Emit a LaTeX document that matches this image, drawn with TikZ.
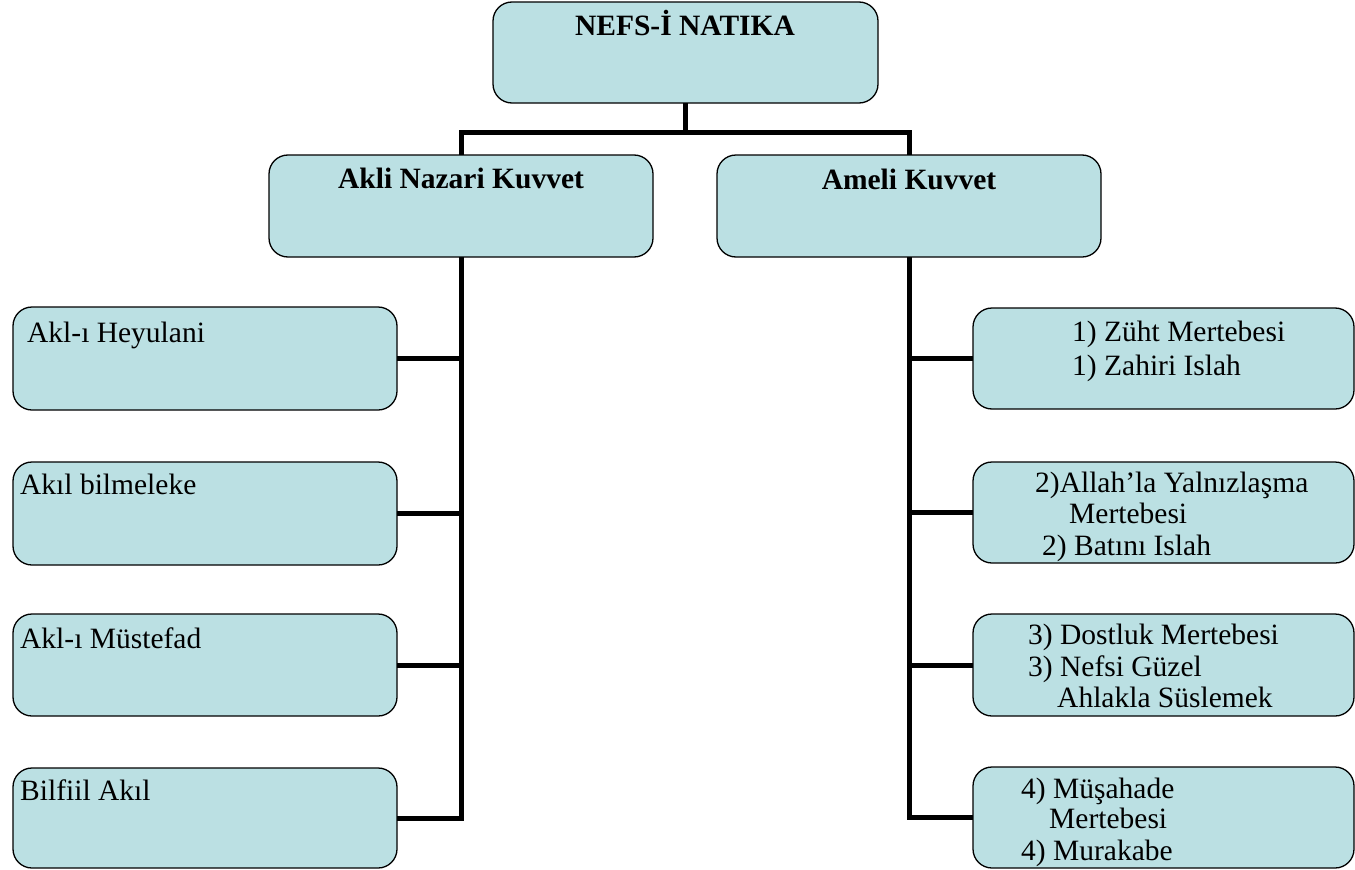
\documentclass[tikz,border=0pt]{standalone}
\usepackage{fontspec}
\usetikzlibrary{calc}
\setmainfont{Liberation Serif}
\definecolor{boxfill}{RGB}{187,224,227}
\tikzset{
  box/.style={draw=black, line width=1.3pt, fill=boxfill, rounded corners=19pt,
              rectangle, inner sep=0pt},
  conn/.style={draw=black, line width=5pt, line join=miter},
  txt/.style={inner sep=0pt, font=\fontsize{29.5}{31.5}\selectfont},
  head/.style={inner sep=0pt, font=\fontsize{29.5}{31.5}\selectfont\bfseries},
}
\newcommand{\boxat}[5]{% name, x1, y1, x2, y2
  \path[box] (#2,#3) rectangle (#4,#5);
  \node[inner sep=0pt, minimum width={#4-#2}, minimum height={#5-#3}]
    (#1) at ({(#2+#4)/2},{(#3+#5)/2}) {};
}
\begin{document}
\begin{tikzpicture}[x=1pt,y=-1pt]
\useasboundingbox (0,0) rectangle (1355,870);

% boxes
\boxat{top}{493}{2}{878}{103}
\boxat{akli}{269}{155}{653}{257}
\boxat{ameli}{717}{155}{1101}{257}
\boxat{l1}{13}{307}{397}{410}
\boxat{l2}{13}{462}{397}{565}
\boxat{l3}{13}{614}{397}{716}
\boxat{l4}{13}{768}{397}{868}
\boxat{r1}{973}{308}{1354}{409}
\boxat{r2}{973}{462}{1354}{563}
\boxat{r3}{973}{614}{1354}{716}
\boxat{r4}{973}{767}{1354}{868}

% connectors
\coordinate (bus) at ($(top.south)+(0,29)$);
\draw[conn] (top.south) -- (bus);
\draw[conn] (akli.north) -- (akli.north |- bus) -- (ameli.north |- bus) -- (ameli.north);
\draw[conn] (akli.south) |- (l4.east);
\foreach \b in {l1,l2,l3} \draw[conn] (\b.east) -- (\b.east -| akli.south);
\draw[conn] (ameli.south) |- (r4.west);
\foreach \b in {r1,r2,r3} \draw[conn] (\b.west) -- (\b.west -| ameli.south);

% headings
\node[head, anchor=base] (ttop) at (685,35) {NEFS-İ NATIKA};
\node[head, anchor=base] (takli) at (461,188) {Akli Nazari Kuvvet};
\node[head, anchor=base] (tameli) at (909,189) {Ameli Kuvvet};

% left column
\node[txt, anchor=base west] (tl1) at (27,342) {Akl-ı Heyulani};
\node[txt, anchor=base west] (tl2) at (20,494) {Akıl bilmeleke};
\node[txt, anchor=base west] (tl3) at (20,648) {Akl-ı Müstefad};
\node[txt, anchor=base west] (tl4) at (20,800) {Bilfiil Akıl};

% right column
\node[txt, anchor=base west] (tr1a) at (1072,341) {1) Züht Mertebesi};
\node[txt, anchor=base west] (tr1b) at (1072,375) {1) Zahiri Islah};
\node[txt, anchor=base west] (tr2a) at (1035,492) {2)Allah’la Yalnızlaşma};
\node[txt, anchor=base west] (tr2b) at (1069,523) {Mertebesi};
\node[txt, anchor=base west] (tr2c) at (1042,555) {2) Batını Islah};
\node[txt, anchor=base west] (tr3a) at (1028,644) {3) Dostluk Mertebesi};
\node[txt, anchor=base west] (tr3b) at (1028,676) {3) Nefsi Güzel};
\node[txt, anchor=base west] (tr3c) at (1057,707) {Ahlakla Süslemek};
\node[txt, anchor=base west] (tr4a) at (1021,798) {4) Müşahade};
\node[txt, anchor=base west] (tr4b) at (1049,828) {Mertebesi};
\node[txt, anchor=base west] (tr4c) at (1021,860) {4) Murakabe};
\end{tikzpicture}
\end{document}
